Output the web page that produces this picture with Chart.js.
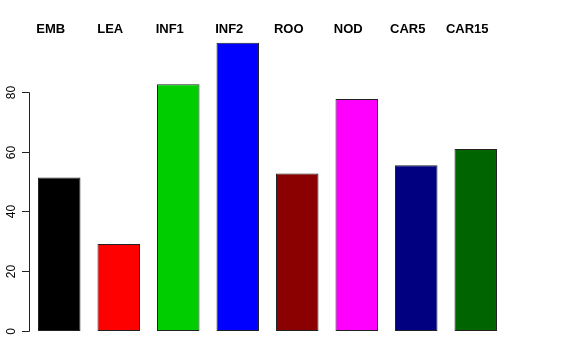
<!DOCTYPE html>
<html>
<head>
<meta charset="utf-8">
<script src="https://cdn.jsdelivr.net/npm/chart.js@4"></script>
<style>
  html, body { margin: 0; padding: 0; background: #fff; }
  #wrap { width: 576px; height: 360px; }
</style>
</head>
<body>
<div id="wrap"><canvas id="chart" width="576" height="360"></canvas></div>
<script>
// -------------------------
// Data
// -------------------------
const tissues = ["EMB", "LEA", "INF1", "INF2", "ROO", "NOD", "CAR5", "CAR15"];
const counts = [51.3, 29.1, 82.5, 96.4, 52.7, 77.6, 55.4, 60.9];
const barColors = ["#000000", "#FF0000", "#00CD00", "#0000FF", "#8B0000", "#FF00FF", "#000080", "#006400"];
const yTicks = [0, 20, 40, 60, 80];

// -------------------------
// R-style axis + top labels
// -------------------------
const rAxisPlugin = {
  id: "rAxis",
  afterDraw(chart) {
    const ctx = chart.ctx;
    const x = chart.scales.x;
    const y = chart.scales.y;
    const axisX = 29;

    ctx.save();
    ctx.strokeStyle = "#222";
    ctx.lineWidth = 1;

    // axis line from first to last tick
    ctx.beginPath();
    ctx.moveTo(axisX + 0.5, Math.round(y.getPixelForValue(yTicks[0])) + 0.5);
    ctx.lineTo(axisX + 0.5, Math.round(y.getPixelForValue(yTicks[yTicks.length - 1])) + 0.5);
    ctx.stroke();

    // ticks + rotated labels
    ctx.fillStyle = "#000";
    ctx.font = "12px 'Liberation Sans', Arial, sans-serif";
    ctx.textAlign = "center";
    ctx.textBaseline = "alphabetic";
    yTicks.forEach(v => {
      const py = Math.round(y.getPixelForValue(v)) + 0.5;
      ctx.beginPath();
      ctx.moveTo(axisX - 7, py);
      ctx.lineTo(axisX + 0.5, py);
      ctx.stroke();

      ctx.save();
      ctx.translate(15, py);
      ctx.rotate(-Math.PI / 2);
      ctx.fillText(String(v), 0, 0);
      ctx.restore();
    });

    // category names above the plot
    ctx.font = "bold 13px 'Liberation Sans', Arial, sans-serif";
    ctx.textBaseline = "middle";
    tissues.forEach((name, i) => {
      ctx.fillText(name, x.getPixelForValue(i) - 8.5, 29);
    });
    ctx.restore();
  }
};

// -------------------------
// Chart
// -------------------------
const ctx = document.getElementById("chart").getContext("2d");
new Chart(ctx, {
  type: "bar",
  data: {
    labels: tissues,
    datasets: [{
      data: counts,
      backgroundColor: barColors,
      borderColor: "#222",
      borderWidth: 1,
      borderSkipped: false,
      categoryPercentage: 1,
      barPercentage: 0.714
    }]
  },
  options: {
    responsive: false,
    animation: false,
    layout: { padding: { left: 29.5, right: 70.5, top: 32, bottom: 29 } },
    plugins: { legend: { display: false }, tooltip: { enabled: false } },
    scales: {
      x: { display: false },
      y: { display: false, min: 0, max: 100 }
    }
  },
  plugins: [rAxisPlugin]
});
</script>
</body>
</html>
